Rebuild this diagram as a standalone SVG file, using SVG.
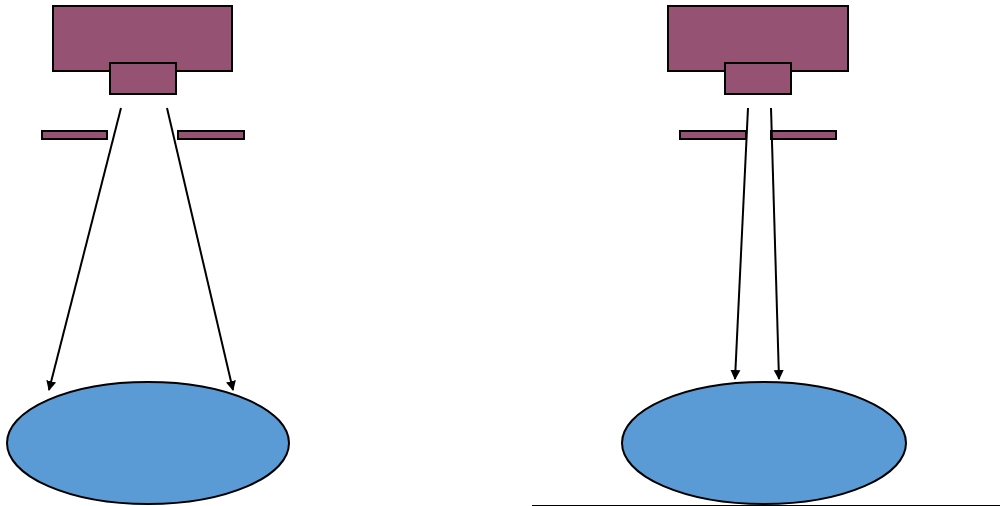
<svg xmlns="http://www.w3.org/2000/svg" width="1000" height="506" viewBox="0 0 1000 506">
<style>
.box{fill:#955272;stroke:#000;stroke-width:2}
.ell{fill:#5B9BD5;stroke:#000;stroke-width:2}
.ray{stroke:#000;stroke-width:2;fill:none;marker-end:url(#ah)}
</style>
<defs>
<marker id="ah" markerWidth="10" markerHeight="12" refX="9" refY="6" orient="auto" markerUnits="userSpaceOnUse">
<path d="M0,1 L10,6 L0,11 Z" fill="#000"/>
</marker>
</defs>
<rect width="1000" height="506" fill="#fff"/>
<g id="left-source">
<rect class="box" x="53" y="6" width="179" height="65"/>
<rect class="box" x="110" y="63" width="66" height="31"/>
</g>
<g id="left-slit-a"><rect class="box" x="42" y="131" width="65" height="8"/></g>
<g id="left-slit-b"><rect class="box" x="178" y="131" width="66" height="8"/></g>
<g id="left-target"><ellipse class="ell" cx="148" cy="443" rx="141" ry="61"/></g>
<g id="right-source">
<rect class="box" x="668" y="6" width="180" height="65"/>
<rect class="box" x="725" y="63" width="66" height="31"/>
</g>
<g id="right-slit-a"><rect class="box" x="680" y="131" width="66" height="8"/></g>
<g id="right-slit-b"><rect class="box" x="771" y="131" width="65" height="8"/></g>
<g id="right-target"><ellipse class="ell" cx="764" cy="443" rx="142" ry="61"/></g>
<g id="ground"><line x1="532" y1="505.5" x2="1000" y2="505.5" stroke="#000" stroke-width="1"/></g>
<g id="connectors">
<line class="ray" x1="121" y1="108" x2="49" y2="390"/>
<line class="ray" x1="167" y1="108" x2="233" y2="390"/>
<line class="ray" x1="748" y1="108" x2="735" y2="379"/>
<line class="ray" x1="771" y1="108" x2="779" y2="379"/>
</g>
</svg>
